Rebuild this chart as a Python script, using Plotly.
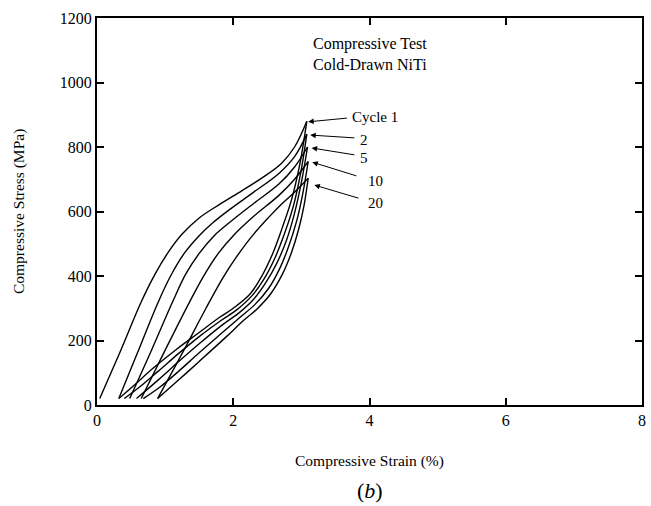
import plotly.graph_objects as go

# Loading branches (strain %, stress MPa)
load_c1_x = [0.04, 0.35, 0.65, 0.85, 1.05, 1.25, 1.5, 1.8, 2.13, 2.45, 2.71, 2.9, 3.08]
load_c1_y = [20, 170, 320, 405, 475, 530, 580, 622, 665, 708, 750, 800, 880]
load_c2_x = [0.32, 0.6, 0.89, 1.08, 1.28, 1.5, 1.7, 1.94, 2.3, 2.67, 2.9, 3.08]
load_c2_y = [20, 165, 315, 400, 470, 525, 565, 605, 660, 718, 770, 840]
load_c5_x = [0.48, 0.8, 1.11, 1.3, 1.5, 1.72, 1.94, 2.3, 2.67, 2.9, 3.09]
load_c5_y = [20, 170, 320, 405, 470, 525, 565, 625, 685, 738, 800]
load_c10_x = [0.65, 1.0, 1.36, 1.58, 1.78, 2.0, 2.3, 2.67, 2.9, 3.10]
load_c10_y = [20, 170, 320, 405, 470, 525, 585, 650, 700, 755]
load_c20_x = [0.89, 1.25, 1.6, 1.85, 2.05, 2.3, 2.67, 2.9, 3.10]
load_c20_y = [20, 160, 300, 395, 460, 530, 615, 660, 703]

# Unloading branches
unload_c1_x = [3.08, 2.98, 2.86, 2.72, 2.58, 2.42, 2.25, 2.0, 1.8, 1.5, 1.15, 0.8, 0.55, 0.32]
unload_c1_y = [880, 750, 640, 550, 470, 400, 345, 300, 272, 225, 170, 110, 62, 20]
unload_c2_x = [3.08, 2.99, 2.88, 2.75, 2.61, 2.45, 2.28, 2.05, 1.82, 1.5, 1.2, 0.9, 0.62, 0.40]
unload_c2_y = [840, 720, 615, 530, 455, 390, 340, 295, 262, 212, 160, 105, 55, 20]
unload_c5_x = [3.09, 3.0, 2.9, 2.78, 2.64, 2.48, 2.3, 2.08, 1.85, 1.5, 1.2, 0.9, 0.58]
unload_c5_y = [800, 690, 595, 510, 440, 380, 328, 285, 250, 190, 135, 78, 20]
unload_c10_x = [3.10, 3.02, 2.93, 2.81, 2.68, 2.52, 2.32, 2.1, 1.87, 1.5, 1.2, 0.92, 0.68]
unload_c10_y = [755, 655, 570, 490, 422, 362, 312, 272, 230, 162, 105, 55, 20]
unload_c20_x = [3.10, 3.04, 2.96, 2.85, 2.72, 2.55, 2.35, 2.15, 1.9, 1.5, 1.2, 0.89]
unload_c20_y = [703, 620, 545, 470, 405, 345, 298, 262, 212, 135, 78, 20]

cycle_labels = ["Cycle 1", "2", "5", "10", "20"]
label_x = [3.72, 3.83, 3.83, 3.95, 3.95]
label_y = [893, 822, 766, 695, 626]
arrow_tip_x = [3.10, 3.13, 3.15, 3.16, 3.19]
arrow_tip_y = [878, 837, 797, 753, 682]
arrow_tail_x = [3.69, 3.80, 3.80, 3.83, 3.86]
arrow_tail_y = [890, 828, 775, 709, 640]

x_ticks = [0, 2, 4, 6, 8]
y_ticks = [0, 200, 400, 600, 800, 1000, 1200]

FONT = "Liberation Serif"

fig = go.Figure()
curves = [
    (load_c1_x, load_c1_y), (unload_c1_x, unload_c1_y),
    (load_c2_x, load_c2_y), (unload_c2_x, unload_c2_y),
    (load_c5_x, load_c5_y), (unload_c5_x, unload_c5_y),
    (load_c10_x, load_c10_y), (unload_c10_x, unload_c10_y),
    (load_c20_x, load_c20_y), (unload_c20_x, unload_c20_y),
]
for cx, cy in curves:
    fig.add_trace(go.Scatter(x=cx, y=cy, mode="lines",
                             line=dict(color="black", width=1.4, shape="spline", smoothing=1.0),
                             showlegend=False, hoverinfo="skip"))

for i, lab in enumerate(cycle_labels):
    fig.add_annotation(x=arrow_tip_x[i], y=arrow_tip_y[i], ax=arrow_tail_x[i], ay=arrow_tail_y[i],
                       axref="x", ayref="y", xref="x", yref="y", text="", showarrow=True,
                       arrowhead=2, arrowsize=1.1, arrowwidth=1, arrowcolor="black")
    fig.add_annotation(x=label_x[i], y=label_y[i], xref="x", yref="y", text=lab, showarrow=False,
                       xanchor="left", yanchor="middle", font=dict(family=FONT, size=15, color="black"))

fig.add_annotation(x=4, y=1088, xref="x", yref="y", text="Compressive Test<br>Cold-Drawn NiTi",
                   showarrow=False, xanchor="center", yanchor="middle",
                   font=dict(family=FONT, size=16, color="black"))

fig.add_annotation(x=0.5, y=-0.145, xref="paper", yref="paper", text="Compressive Strain (%)",
                   showarrow=False, xanchor="center", yanchor="middle",
                   font=dict(family=FONT, size=15.5, color="black"))
fig.add_annotation(x=-0.144, y=0.5, xref="paper", yref="paper", text="Compressive Stress (MPa)",
                   showarrow=False, xanchor="center", yanchor="middle", textangle=-90,
                   font=dict(family=FONT, size=15.5, color="black"))
fig.add_annotation(x=0.5, y=-0.221, xref="paper", yref="paper", text="(<i>b</i>)",
                   showarrow=False, xanchor="center", yanchor="middle",
                   font=dict(family=FONT, size=22, color="black"))

axis_common = dict(showgrid=False, zeroline=False, showline=True, linecolor="black", linewidth=2,
                   mirror="ticks", ticks="inside", ticklen=7, tickwidth=1.5, tickcolor="black",
                   tickfont=dict(family=FONT, size=16, color="black"))
fig.update_xaxes(range=[0, 8], tickvals=x_ticks, **axis_common)
fig.update_yaxes(range=[0, 1200], tickvals=y_ticks, **axis_common)

fig.update_layout(width=651, height=506, margin=dict(l=97, r=5, t=18, b=101),
                  plot_bgcolor="white", paper_bgcolor="white")

fig.write_html("out.html")
